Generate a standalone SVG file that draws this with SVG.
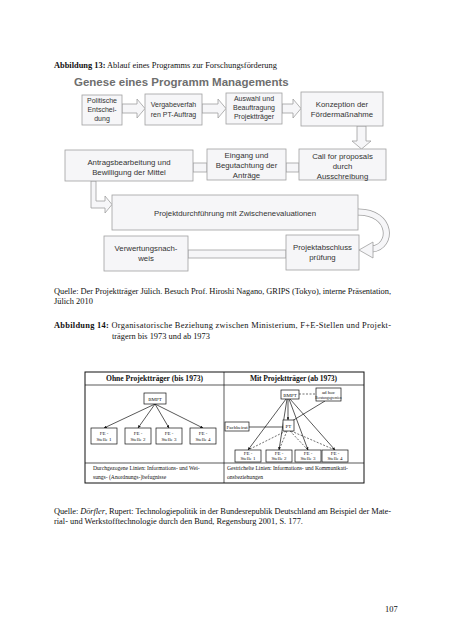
<svg xmlns="http://www.w3.org/2000/svg" width="452" height="640" viewBox="0 0 452 640">
<style>
.pg{font-family:"Liberation Serif","Times New Roman",serif;font-size:8.4px;fill:#111}
.b{font-weight:bold}
.tt{font-family:"Liberation Sans",Arial,sans-serif;font-weight:bold;font-size:11.5px;fill:#6e6e6e}
.bx{fill:#f6f6f8;stroke:#a0a0a0;stroke-width:0.8}
.ar{fill:#f6f6f8;stroke:#a0a0a0;stroke-width:0.8}
.t1{font-family:"Liberation Sans",Arial,sans-serif;font-size:7px;fill:#333;text-anchor:middle}
.t2{font-family:"Liberation Sans",Arial,sans-serif;font-size:7.8px;fill:#333;text-anchor:middle}
.ln{stroke:#111;stroke-width:0.7;fill:none}
.dl{stroke:#111;stroke-width:0.6;fill:none;stroke-dasharray:2 1.5}
.bk{fill:#fff;stroke:#111;stroke-width:0.7}
.s{font-family:"Liberation Serif","Times New Roman",serif;font-size:5px;fill:#111;text-anchor:middle}
.h{font-family:"Liberation Serif","Times New Roman",serif;font-size:7.6px;font-weight:bold;fill:#111}
.f{font-family:"Liberation Serif","Times New Roman",serif;font-size:5.6px;fill:#111}
</style>
<defs>
<marker id="ah" viewBox="0 0 6 6" refX="6" refY="3" markerWidth="4" markerHeight="4" orient="auto"><path d="M0,0 L6,3 L0,6 z" fill="#111"/></marker>
</defs>
<rect width="452" height="640" fill="#fff"/>

<text class="pg" x="54" y="68"><tspan class="b">Abbildung 13:</tspan> Ablauf eines Programms zur Forschungsförderung</text>
<text class="tt" x="74" y="86">Genese eines Programm Managements</text>

<g id="connectors1">
<path class="ar" d="M122,104 H137 V99 L145,108.5 L137,118 V113 H122 Z"/>
<path class="ar" d="M202,104 H218 V99 L226,108.5 L218,118 V113 H202 Z"/>
<path class="ar" d="M282,104 H293 V99 L301,108.5 L293,118 V113 H282 Z"/>
<path class="ar" d="M357,126 V141 H352 L361.5,149 L371,141 H366 V126 Z"/>
<rect class="ar" x="286" y="163" width="13" height="9"/>
<rect class="ar" x="193" y="163" width="14" height="9"/>
<path class="ar" d="M91,181 V208 H105 V213 L112,204.5 L105,196 V201 H96 V181 Z"/>
<path d="M358,212 C393,212 393,247 372,249" fill="none" stroke="#a0a0a0" stroke-width="7"/>
<path d="M358,212 C393,212 393,247 372,249" fill="none" stroke="#f6f6f8" stroke-width="5.4"/>
<path class="ar" d="M373,242 L359,250 L373,258 Z"/>
<rect class="ar" x="188" y="250" width="98" height="8"/>
</g>

<g id="n1"><rect class="bx" x="82" y="95" width="40" height="30"/>
<text class="t1" x="102" y="103">Politische</text><text class="t1" x="102" y="112">Entschei-</text><text class="t1" x="102" y="121">dung</text></g>
<g id="n2"><rect class="bx" x="145" y="94" width="57" height="31"/>
<text class="t1" x="173.5" y="107">Vergabeverfah</text><text class="t1" x="173.5" y="117">ren PT-Auftrag</text></g>
<g id="n3"><rect class="bx" x="226" y="93" width="56" height="31"/>
<text class="t1" x="254" y="101">Auswahl und</text><text class="t1" x="254" y="110">Beauftragung</text><text class="t1" x="254" y="119">Projektträger</text></g>
<g id="n4"><rect class="bx" x="301" y="92" width="82" height="34"/>
<text class="t2" x="342" y="107">Konzeption der</text><text class="t2" x="342" y="117">Fördermaßnahme</text></g>
<g id="n5"><rect class="bx" x="299" y="149" width="87" height="31"/>
<text class="t2" x="342.5" y="159">Call for proposals</text><text class="t2" x="342.5" y="169">durch</text><text class="t2" x="342.5" y="179">Ausschreibung</text></g>
<g id="n6"><rect class="bx" x="207" y="149" width="79" height="31"/>
<text class="t2" x="246.5" y="158">Eingang  und</text><text class="t2" x="246.5" y="168">Begutachtung der</text><text class="t2" x="246.5" y="178">Anträge</text></g>
<g id="n7"><rect class="bx" x="65" y="150" width="128" height="31"/>
<text class="t2" x="129" y="165">Antragsbearbeitung und</text><text class="t2" x="129" y="175">Bewilligung der Mittel</text></g>
<g id="n8"><rect class="bx" x="112" y="195" width="246" height="35"/>
<text class="t2" x="235" y="216">Projektdurchführung mit Zwischenevaluationen</text></g>
<g id="n9"><rect class="bx" x="104" y="236" width="84" height="35"/>
<text class="t2" x="146" y="251">Verwertungsnach-</text><text class="t2" x="146" y="261">weis</text></g>
<g id="n10"><rect class="bx" x="286" y="235" width="73" height="35"/>
<text class="t2" x="322.5" y="250">Projektabschluss</text><text class="t2" x="322.5" y="260">prüfung</text></g>

<text class="pg" x="54" y="294" textLength="337">Quelle: Der Projektträger Jülich. Besuch Prof. Hiroshi Nagano, GRIPS (Tokyo), interne Präsentation,</text>
<text class="pg" x="54" y="304">Jülich 2010</text>
<text class="pg" x="54" y="328" textLength="337"><tspan class="b">Abbildung 14:</tspan> Organisatorische Beziehung zwischen Ministerium, F+E-Stellen und Projekt-</text>
<text class="pg" x="112" y="339">trägern bis 1973 und ab 1973</text>

<g id="frame2">
<rect x="85" y="372" width="279" height="111" fill="none" stroke="#111" stroke-width="1"/>
<line class="ln" x1="85" y1="385" x2="364" y2="385"/>
<line class="ln" x1="224" y1="372" x2="224" y2="483"/>
<line class="ln" x1="85" y1="463" x2="364" y2="463"/>
<text class="h" x="106" y="381" textLength="97">Ohne Projektträger (bis 1973)</text>
<text class="h" x="250" y="381" textLength="87">Mit Projektträger (ab 1973)</text>
<text class="f" x="93" y="470">Durchgezogene Linien: Informations- und Wei-</text>
<text class="f" x="93" y="479">sungs- (Anordnungs-)befugnisse</text>
<text class="f" x="227" y="470">Gestrichelte Linien: Informations- und Kommunikati-</text>
<text class="f" x="227" y="479">onsbeziehungen</text>
</g>

<g id="connectors2">
<line class="ln" x1="155" y1="404" x2="104" y2="428" marker-end="url(#ah)"/>
<line class="ln" x1="155" y1="404" x2="138" y2="428" marker-end="url(#ah)"/>
<line class="ln" x1="155" y1="404" x2="169" y2="428" marker-end="url(#ah)"/>
<line class="ln" x1="155" y1="404" x2="203" y2="428" marker-end="url(#ah)"/>
<line class="dl" x1="299" y1="394" x2="316" y2="394"/>
<line class="ln" x1="288" y1="399" x2="288" y2="420" marker-end="url(#ah)"/>
<line class="ln" x1="325" y1="401" x2="292" y2="421"/>
<line class="ln" x1="249" y1="427" x2="283" y2="427"/>
<line class="ln" x1="286" y1="399" x2="248" y2="450" marker-end="url(#ah)"/>
<line class="ln" x1="287" y1="399" x2="279" y2="450" marker-end="url(#ah)"/>
<line class="ln" x1="289" y1="399" x2="308" y2="450" marker-end="url(#ah)"/>
<line class="ln" x1="290" y1="399" x2="335" y2="450" marker-end="url(#ah)"/>
<line class="dl" x1="286" y1="431" x2="248" y2="450"/>
<line class="dl" x1="287" y1="431" x2="279" y2="450"/>
<line class="dl" x1="290" y1="431" x2="308" y2="450"/>
<line class="dl" x1="291" y1="431" x2="335" y2="450"/>
</g>

<g id="bmpt1"><rect class="bk" x="144" y="393" width="22" height="11"/><text class="s" x="155" y="400.5">BMPT</text></g>
<g id="fe1"><rect class="bk" x="91" y="428" width="26" height="16"/><text class="s" x="104" y="435">FE -</text><text class="s" x="104" y="441">Stelle 1</text></g>
<g id="fe2"><rect class="bk" x="125" y="428" width="26" height="16"/><text class="s" x="138" y="435">FE -</text><text class="s" x="138" y="441">Stelle 2</text></g>
<g id="fe3"><rect class="bk" x="156" y="428" width="26" height="16"/><text class="s" x="169" y="435">FE -</text><text class="s" x="169" y="441">Stelle 3</text></g>
<g id="fe4"><rect class="bk" x="190" y="428" width="26" height="16"/><text class="s" x="203" y="435">FE -</text><text class="s" x="203" y="441">Stelle 4</text></g>

<g id="bmpt2"><rect class="bk" x="281" y="390" width="18" height="9"/><text class="s" x="290" y="396.5">BMPT</text></g>
<g id="adhoc"><rect class="bk" x="316" y="388" width="25" height="13"/><text class="s" x="328.5" y="393.5">ad hoc</text><text class="s" x="328.5" y="399" style="font-size:3.6px">Beratungsgremien</text></g>
<g id="pt"><rect class="bk" x="283" y="420" width="11" height="11"/><text class="s" x="288.5" y="427.5">PT</text></g>
<g id="fachbeirat"><rect class="bk" x="225" y="422" width="24" height="9"/><text class="s" x="237" y="428.5">Fachbeirat</text></g>
<g id="fe5"><rect class="bk" x="235" y="450" width="26" height="12"/><text class="s" x="248" y="455">FE -</text><text class="s" x="248" y="460">Stelle 1</text></g>
<g id="fe6"><rect class="bk" x="266" y="450" width="26" height="12"/><text class="s" x="279" y="455">FE -</text><text class="s" x="279" y="460">Stelle 2</text></g>
<g id="fe7"><rect class="bk" x="295" y="450" width="26" height="12"/><text class="s" x="308" y="455">FE -</text><text class="s" x="308" y="460">Stelle 3</text></g>
<g id="fe8"><rect class="bk" x="322" y="450" width="26" height="12"/><text class="s" x="335" y="455">FE -</text><text class="s" x="335" y="460">Stelle 4</text></g>

<text class="pg" x="54" y="514" textLength="337">Quelle: <tspan font-style="italic">Dörfler</tspan>, Rupert: Technologiepolitik in der Bundesrepublik Deutschland am Beispiel der Mate-</text>
<text class="pg" x="54" y="524">rial- und Werkstofftechnologie durch den Bund, Regensburg 2001, S. 177.</text>
<text class="pg" x="385" y="612">107</text>
</svg>
